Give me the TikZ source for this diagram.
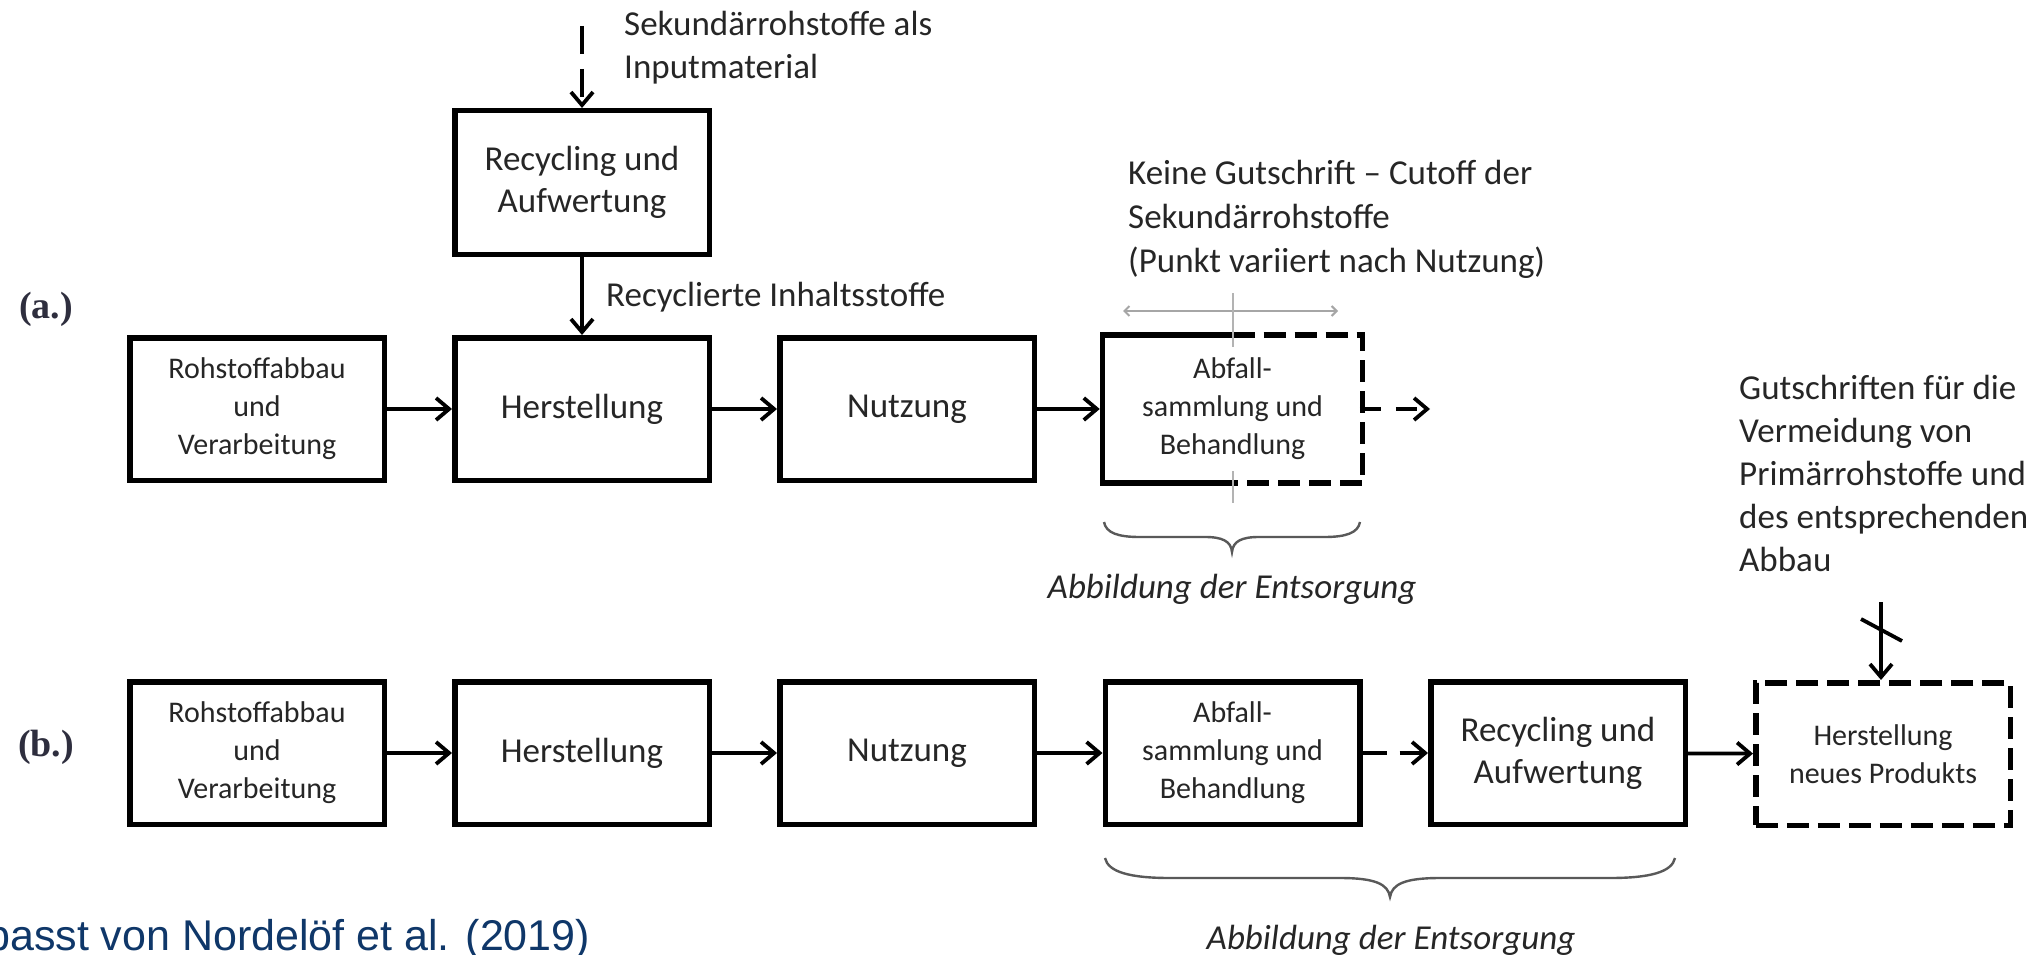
\documentclass[tikz,border=0pt]{standalone}
\usepackage{fontspec}
\setmainfont{Carlito}
\newfontfamily\labfont{Liberation Serif}
\newfontfamily\srcfont{Liberation Sans}
\usetikzlibrary{arrows.meta}
\definecolor{txt}{HTML}{262626}
\definecolor{navy}{HTML}{0F3769}
\definecolor{cutgray}{HTML}{A6A6A6}
\definecolor{bracegray}{HTML}{595959}
\definecolor{labcol}{HTML}{2E2E3E}
\begin{document}
\begin{tikzpicture}[x=1pt,y=-1pt,
  box/.style={draw=black, line width=5.5pt, minimum width=254.5pt, minimum height=142.5pt, inner sep=0pt, align=center, text=txt},
  bigtxt/.style={font=\fontsize{35}{42}\selectfont},
  smalltxt/.style={font=\fontsize{30}{38}\selectfont},
  note/.style={font=\fontsize{35}{43.5}\selectfont, text=txt, align=left, anchor=base west, inner sep=0pt},
  brtxt/.style={font=\fontsize{35}{42}\itshape\selectfont, text=txt, anchor=base, inner sep=0pt},
  dashbox/.style={dash pattern=on 22pt off 9pt},
  arr/.style={line width=3.8pt, -{Straight Barb[length=13pt,width=22pt]}},
  cutarrow/.style={draw=cutgray, line width=2pt, {Straight Barb[length=5pt,width=10pt]}-{Straight Barb[length=5pt,width=10pt]}},
  bracestyle/.style={draw=bracegray, line width=2.4pt},
  rowlab/.style={font=\fontsize{38}{40}\labfont\bfseries\selectfont, text=labcol, inner sep=0pt}
]
\useasboundingbox[fill=white] (0,0) rectangle (2044,955);

% ---------- row (a) ----------
\node[box,bigtxt, minimum height=143.5pt] (reca) at (582,182.5) {Recycling und\\Aufwertung};
\node[box,smalltxt] (roha) at (257,409) {Rohstoffabbau\\und\\Verarbeitung};
\node[box,bigtxt] (hera) at (582,409) {Herstellung};
\node[box,bigtxt] (nuta) at (907,409) {Nutzung};
\node[box,smalltxt,draw=none] (abfa) at (1232.5,409) {Abfall-\\sammlung und\\Behandlung};

\draw[line width=5.5pt] (abfa.north) -- (abfa.north west) -- (abfa.south west) -- (abfa.south);
\draw[line width=5.5pt, dashbox] (abfa.north) -- (abfa.north east) -- (abfa.south east) -- (abfa.south);

\coordinate (inp) at (582,26);
\coordinate (outa) at (1430,409);
\draw[arr, dash pattern=on 28pt off 15pt] (inp) -- (reca);
\draw[arr] (reca) -- (hera);
\draw[arr] (roha) -- (hera);
\draw[arr] (hera) -- (nuta);
\draw[arr, shorten >=2.75pt] (nuta) -- (abfa);
\draw[arr, dash pattern=on 21pt off 15pt, shorten <=-2.75pt] (abfa.east) -- (outa);

% cutoff marker
\coordinate (cutl) at (1123,311);
\coordinate (cutr) at (1338,311);
\coordinate (cutt) at (1233,293);
\coordinate (cutm1) at (1233,347);
\coordinate (cutm2) at (1233,471);
\coordinate (cutb) at (1233,503);
\draw[cutarrow] (cutl) -- (cutr);
\draw[draw=cutgray!85, line width=2pt] (cutt) -- (cutm1);
\draw[draw=cutgray!85, line width=2pt] (cutm2) -- (cutb);

% texts row (a)  (anchor = baseline of the last line)
\node[note, font=\fontsize{35}{43}\selectfont] (sekin) at (624,79) {Sekundärrohstoffe als\\Inputmaterial};
\node[note] (recin) at (606,306) {Recyclierte Inhaltsstoffe};
\node[note, font=\fontsize{35}{44}\selectfont] (keine) at (1128,272) {Keine Gutschrift – Cutoff der\\Sekundärrohstoffe\\(Punkt variiert nach Nutzung)};
\node[note, font=\fontsize{35}{43}\selectfont] (gut) at (1739,571) {Gutschriften für die\\Vermeidung von\\Primärrohstoffe und\\des entsprechenden\\Abbau};

\draw[bracestyle] (1104,522) .. controls (1106,533) and (1118,537) .. (1140,537) -- (1205,537)
  .. controls (1222,537) and (1231,541) .. (1232,552)
  .. controls (1233,541) and (1242,537) .. (1259,537) -- (1324,537)
  .. controls (1346,537) and (1358,533) .. (1360,522);
\node[brtxt] (abba) at (1232,598) {Abbildung der Entsorgung};

\node[rowlab] (laba) at (46,309) {(a.)};

% ---------- row (b) ----------
\node[box,smalltxt] (rohb) at (257,753) {Rohstoffabbau\\und\\Verarbeitung};
\node[box,bigtxt] (herb) at (582,753) {Herstellung};
\node[box,bigtxt] (nutb) at (907,753) {Nutzung};
\node[box,smalltxt] (abfb) at (1232.5,753) {Abfall-\\sammlung und\\Behandlung};
\node[box,bigtxt] (recb) at (1558,753) {Recycling und\\Aufwertung};
\node[box,smalltxt,dashbox] (neub) at (1883,754) {Herstellung\\neues Produkts};

\draw[arr] (rohb) -- (herb);
\draw[arr] (herb) -- (nutb);
\draw[arr] (nutb) -- (abfb);
\draw[arr, dash pattern=on 24pt off 13pt] (abfb) -- (recb);
\draw[arr] (recb) -- (neub);

\coordinate (cred) at (1881,602);
\coordinate (x1) at (1861,619);
\coordinate (x2) at (1902,641);
\draw[arr] (cred) -- (cred |- neub.north);
\draw[line width=3.8pt] (x1) -- (x2);

\draw[bracestyle] (1105,858) .. controls (1108,872) and (1130,878) .. (1170,878) -- (1340,878)
  .. controls (1375,878) and (1388,884) .. (1390,897)
  .. controls (1392,884) and (1405,878) .. (1440,878) -- (1610,878)
  .. controls (1650,878) and (1672,872) .. (1675,858);
\node[brtxt] (abbb) at (1391,949) {Abbildung der Entsorgung};

\node[rowlab] (labb) at (46,747) {(b.)};

% source
\node[font=\fontsize{43}{45}\srcfont\selectfont, text=navy, anchor=base west, inner sep=0pt] (src) at (-14,950) {passt von Nordelöf et al. (2019)};
\end{tikzpicture}
\end{document}
